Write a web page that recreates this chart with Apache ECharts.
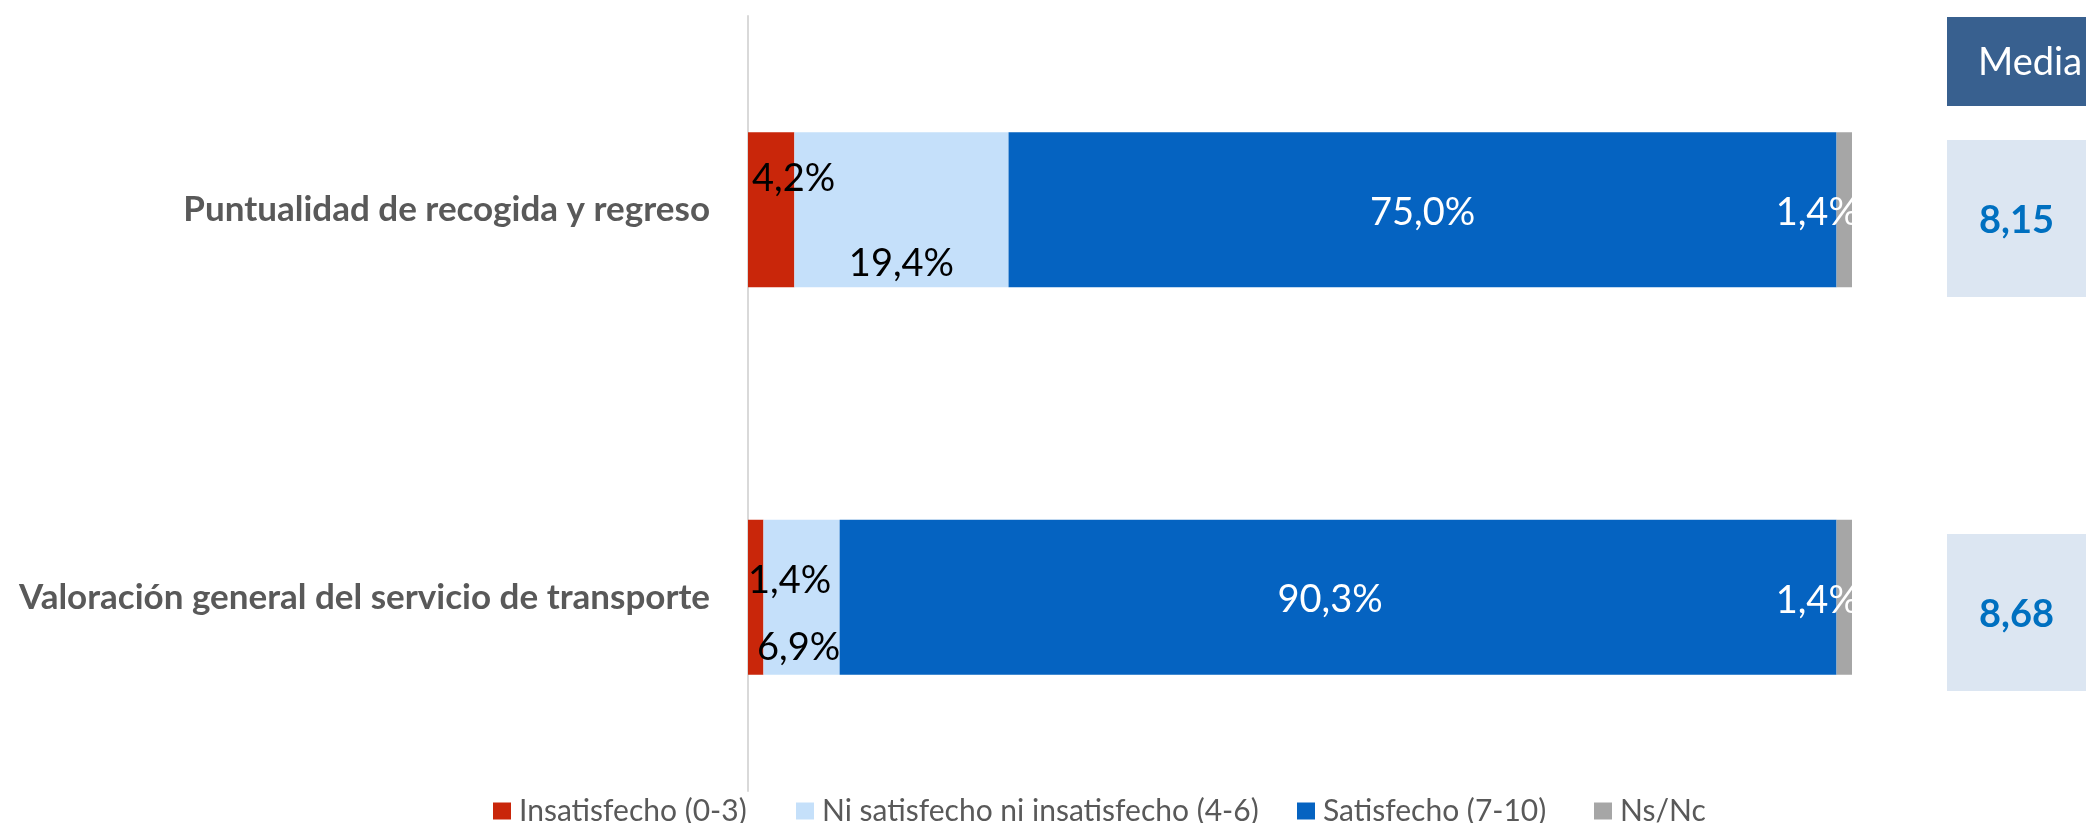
<!DOCTYPE html>
<html>
<head>
<meta charset="utf-8">
<script src="https://cdn.jsdelivr.net/npm/echarts@6/dist/echarts.min.js"></script>
<style>
  html, body { margin: 0; padding: 0; background: #ffffff; }
  #chart { width: 2086px; height: 823px; }
</style>
</head>
<body>
<div id="chart"></div>
<script>
// ---- DATA ----
const categories = ['Puntualidad de recogida y regreso', 'Valoración general del servicio de transporte'];
const seriesNames = ['Insatisfecho (0-3)', 'Ni satisfecho ni insatisfecho (4-6)', 'Satisfecho (7-10)', 'Ns/Nc'];
const insatisfecho = [4.2, 1.4];
const niSatisfecho = [19.4, 6.9];
const satisfecho = [75.0, 90.3];
const nsnc = [1.4, 1.4];
const medias = [8.15, 8.68];
const mediaTitle = 'Media';

// ---- LAYOUT / STYLE ----
const FONT = 'Lato, "Open Sans", sans-serif';
const colors = ['#c9260a', '#c5e0fa', '#0563c1', '#a6a6a6'];
const labelColors = ['#000000', '#000000', '#ffffff', '#ffffff'];
const labelPositions = ['insideLeft', 'inside', 'inside', 'inside'];
const labelOffsets = [
  [[4, -31], [0, -17]],
  [[0, 54], [-3, 50]],
  [[0, 3], [-8, 2]],
  [[-27, 3], [-27, 3]]
];
const legendLefts = [493, 796, 1297, 1594];

const values = [insatisfecho, niSatisfecho, satisfecho, nsnc];
const fmtPct = v => v.toFixed(1).replace('.', ',') + '%';

const barSeries = values.map((arr, s) => ({
  name: seriesNames[s],
  type: 'bar',
  stack: 'total',
  xAxisIndex: 0,
  yAxisIndex: 0,
  barWidth: 155,
  itemStyle: { color: colors[s] },
  label: {
    show: true,
    position: labelPositions[s],
    distance: 0,
    color: labelColors[s],
    fontFamily: FONT,
    fontSize: 38,
    formatter: p => fmtPct(p.value)
  },
  data: arr.map((v, i) => ({ value: v, label: { offset: labelOffsets[s][i] } }))
}));

const mediaSeries = {
  name: mediaTitle,
  type: 'bar',
  xAxisIndex: 1,
  yAxisIndex: 1,
  barWidth: 157,
  itemStyle: { color: '#dce6f2' },
  label: {
    show: true,
    position: 'inside',
    offset: [0, 2],
    color: '#0070c0',
    fontFamily: FONT,
    fontWeight: 'bold',
    fontSize: 38,
    formatter: p => medias[p.dataIndex].toFixed(2).replace('.', ',')
  },
  data: medias.map(() => 1)
};

const legends = seriesNames.map((n, i) => ({
  data: [n],
  left: legendLefts[i],
  top: 794,
  padding: 0,
  itemWidth: 18,
  itemHeight: 17,
  icon: 'rect',
  selectedMode: false,
  textStyle: { color: '#595959', fontFamily: FONT, fontSize: 30, lineHeight: 34, padding: [0, 0, 0, 3] }
}));

const chart = echarts.init(document.getElementById('chart'), null, { renderer: 'canvas' });
chart.setOption({
  backgroundColor: '#ffffff',
  animation: false,
  legend: legends,
  grid: [
    { left: 748, right: 234, top: 16, height: 775 },
    { left: 1947, width: 166, top: 21.5, height: 788 }
  ],
  xAxis: [
    { type: 'value', gridIndex: 0, min: 0, max: 100, show: false },
    { type: 'value', gridIndex: 1, min: 0, max: 1, show: false }
  ],
  yAxis: [
    {
      type: 'category', gridIndex: 0, inverse: true, data: categories,
      axisLine: { show: true, lineStyle: { color: '#d9d9d9', width: 2 } },
      axisTick: { show: false },
      axisLabel: { color: '#595959', fontFamily: FONT, fontWeight: 'bold', fontSize: 35, margin: 38 }
    },
    { type: 'category', gridIndex: 1, inverse: true, data: categories, show: false }
  ],
  graphic: [
    { type: 'rect', shape: { x: 1947, y: 17, width: 166, height: 89 }, style: { fill: '#38608f' }, z: 10 },
    { type: 'text', x: 2030, y: 63, style: { text: mediaTitle, fill: '#ffffff', font: '38px ' + FONT, textAlign: 'center', textVerticalAlign: 'middle' }, z: 11 }
  ],
  series: [...barSeries, mediaSeries]
});
</script>
</body>
</html>
